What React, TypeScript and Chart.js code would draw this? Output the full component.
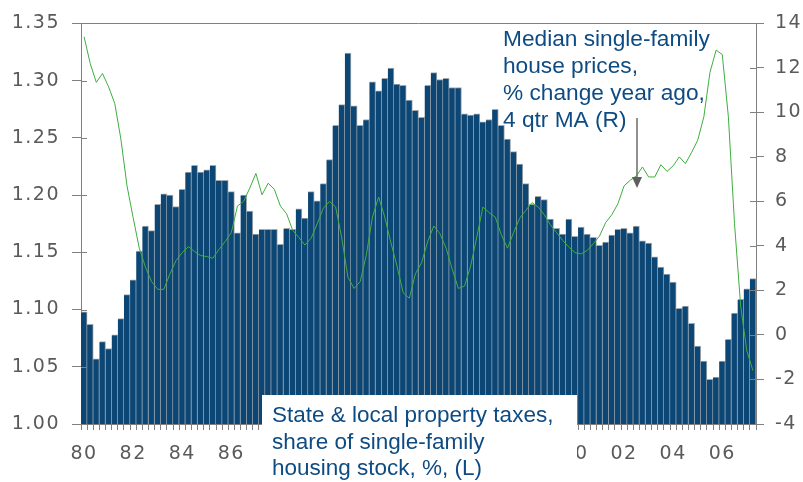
import React, { useEffect, useRef } from "react";
import { Chart, registerables } from "chart.js";

Chart.register(...registerables);

const QUARTERS = [
  "1980Q1","1980Q2","1980Q3","1980Q4","1981Q1","1981Q2","1981Q3","1981Q4",
  "1982Q1","1982Q2","1982Q3","1982Q4","1983Q1","1983Q2","1983Q3","1983Q4",
  "1984Q1","1984Q2","1984Q3","1984Q4","1985Q1","1985Q2","1985Q3","1985Q4",
  "1986Q1","1986Q2","1986Q3","1986Q4","1987Q1","1987Q2","1987Q3","1987Q4",
  "1988Q1","1988Q2","1988Q3","1988Q4","1989Q1","1989Q2","1989Q3","1989Q4",
  "1990Q1","1990Q2","1990Q3","1990Q4","1991Q1","1991Q2","1991Q3","1991Q4",
  "1992Q1","1992Q2","1992Q3","1992Q4","1993Q1","1993Q2","1993Q3","1993Q4",
  "1994Q1","1994Q2","1994Q3","1994Q4","1995Q1","1995Q2","1995Q3","1995Q4",
  "1996Q1","1996Q2","1996Q3","1996Q4","1997Q1","1997Q2","1997Q3","1997Q4",
  "1998Q1","1998Q2","1998Q3","1998Q4","1999Q1","1999Q2","1999Q3","1999Q4",
  "2000Q1","2000Q2","2000Q3","2000Q4","2001Q1","2001Q2","2001Q3","2001Q4",
  "2002Q1","2002Q2","2002Q3","2002Q4","2003Q1","2003Q2","2003Q3","2003Q4",
  "2004Q1","2004Q2","2004Q3","2004Q4","2005Q1","2005Q2","2005Q3","2005Q4",
  "2006Q1","2006Q2","2006Q3","2006Q4","2007Q1","2007Q2",
];

const TICK_LABELS = ["80","82","84","86","88","90","92","94","96","98","00","02","04","06"];

const PROPERTY_TAX_SHARE = [
  1.098,1.087,1.057,1.072,1.066,1.078,1.092,1.113,
  1.126,1.151,1.173,1.169,1.192,1.201,1.200,1.190,
  1.205,1.220,1.226,1.220,1.222,1.226,1.213,1.213,
  1.203,1.167,1.200,1.186,1.166,1.170,1.170,1.170,
  1.157,1.171,1.170,1.188,1.180,1.203,1.195,1.210,
  1.231,1.261,1.279,1.324,1.278,1.261,1.266,1.299,
  1.291,1.302,1.311,1.297,1.296,1.283,1.274,1.268,
  1.296,1.307,1.301,1.302,1.294,1.294,1.271,1.270,
  1.271,1.264,1.266,1.275,1.261,1.249,1.238,1.227,
  1.210,1.192,1.199,1.196,1.179,1.171,1.166,1.179,
  1.164,1.172,1.166,1.163,1.156,1.159,1.165,1.170,
  1.171,1.167,1.173,1.160,1.158,1.146,1.137,1.131,
  1.124,1.101,1.103,1.088,1.068,1.055,1.039,1.041,
  1.055,1.074,1.097,1.109,1.118,1.127,
];

const HOUSE_PRICE_CHANGE = [
  13.4,12.2,11.35,11.75,11.15,10.4,8.8,6.7,
  5.27,3.9,3.05,2.4,2.05,2.05,2.75,3.35,
  3.7,3.97,3.75,3.57,3.52,3.45,3.85,4.2,
  4.6,5.8,6.0,6.6,7.26,6.3,6.82,6.55,
  5.79,5.45,4.7,4.38,4.04,4.35,5.0,5.7,
  6.0,5.75,4.35,2.6,2.09,2.4,3.6,5.3,
  6.2,5.3,4.15,3.1,1.9,1.65,2.75,3.25,
  4.2,4.9,4.55,3.9,2.95,2.09,2.2,3.1,
  4.4,5.75,5.5,5.3,4.5,3.9,4.6,5.25,
  5.6,5.95,5.75,5.4,4.95,4.6,4.25,3.95,
  3.7,3.64,3.8,4.1,4.45,5.05,5.4,5.9,
  6.7,6.95,7.15,7.55,7.1,7.1,7.65,7.35,
  7.6,8.0,7.7,8.2,8.75,9.8,11.8,12.8,
  12.6,9.8,5.0,1.3,-0.7,-1.6,
];

const PRICE_NOTE = ["Median single-family", "house prices,", "% change year ago,", "4 qtr MA (R)"];
const TAX_NOTE = ["State & local property taxes,", "share of single-family", "housing stock, %, (L)"];

const AXIS_GRAY = "#808080";
const LABEL_GRAY = "#5a5a5a";
const NOTE_BLUE = "#0e4b82";

const overlayPlugin = {
  id: "overlay",
  beforeDraw(chart: any) {
    chart.ctx.letterSpacing = "1.5px";
  },
  afterDraw(chart: any) {
    const ctx = chart.ctx;
    const area = chart.chartArea;
    ctx.save();
    ctx.letterSpacing = "0px";
    // top frame line
    ctx.strokeStyle = AXIS_GRAY;
    ctx.lineWidth = 1;
    ctx.beginPath();
    ctx.moveTo(area.left, Math.round(area.top) + 0.5);
    ctx.lineTo(area.right, Math.round(area.top) + 0.5);
    ctx.stroke();
    // inner tick portions on y axes
    const yl = chart.scales.y;
    const yr = chart.scales.y1;
    ctx.beginPath();
    yl.ticks.forEach((_t: any, i: number) => {
      const p = Math.round(yl.getPixelForTick(i)) + 0.5;
      ctx.moveTo(area.left, p);
      ctx.lineTo(area.left + 6, p);
    });
    yr.ticks.forEach((_t: any, i: number) => {
      const p = Math.round(yr.getPixelForTick(i)) + 0.5;
      ctx.moveTo(area.right - 6, p);
      ctx.lineTo(area.right, p);
    });
    ctx.stroke();

    // white label box over bars
    ctx.fillStyle = "#ffffff";
    ctx.fillRect(262, 395, 315, 90);
    ctx.fillStyle = NOTE_BLUE;
    ctx.font = '22.5px "Liberation Sans", Arial, sans-serif';
    ctx.textAlign = "left";
    ctx.textBaseline = "alphabetic";
    TAX_NOTE.forEach((t, i) => ctx.fillText(t, 272, 422 + i * 26.7));
    ctx.font = '22.7px "Liberation Sans", Arial, sans-serif';
    PRICE_NOTE.forEach((t, i) => ctx.fillText(t, 503, 46 + i * 26.9));

    // arrow
    ctx.strokeStyle = "#6b6b6b";
    ctx.lineWidth = 1.5;
    ctx.beginPath();
    ctx.moveTo(637, 118);
    ctx.lineTo(637, 178);
    ctx.stroke();
    ctx.fillStyle = "#5f5f5f";
    ctx.beginPath();
    ctx.moveTo(632, 177);
    ctx.lineTo(642, 177);
    ctx.lineTo(637, 188);
    ctx.closePath();
    ctx.fill();
    ctx.restore();
  },
};

export default function App() {
  const ref = useRef<HTMLCanvasElement | null>(null);

  useEffect(() => {
    if (!ref.current) return;
    const tickFont = { family: '"DejaVu Sans", Verdana, sans-serif', size: 19 };
    const chart = new Chart(ref.current, {
      type: "bar",
      data: {
        labels: QUARTERS,
        datasets: [
          {
            type: "line",
            label: "Median single-family house prices, % change year ago, 4 qtr MA (R)",
            data: HOUSE_PRICE_CHANGE,
            yAxisID: "y1",
            borderColor: "#3fae3f",
            borderWidth: 1,
            pointRadius: 0,
            tension: 0,
            order: 0,
          } as any,
          {
            type: "bar",
            label: "State & local property taxes, share of single-family housing stock, %, (L)",
            data: PROPERTY_TAX_SHARE,
            yAxisID: "y",
            backgroundColor: "#0c4675",
            borderColor: "#a3a8ad",
            borderWidth: { top: 1, right: 1, left: 0, bottom: 0 },
            borderSkipped: false,
            barPercentage: 1,
            categoryPercentage: 1,
            order: 1,
          } as any,
        ],
      },
      options: {
        animation: false,
        responsive: false,
        layout: { padding: { top: 18, left: 0, right: 0, bottom: 0 } },
        plugins: { legend: { display: false }, tooltip: { enabled: false } },
        scales: {
          x: {
            offset: true,
            grid: {
              offset: true,
              drawOnChartArea: false,
              tickLength: 6,
              color: AXIS_GRAY,
            },
            border: { color: AXIS_GRAY, width: 1 },
            ticks: {
              autoSkip: false,
              maxRotation: 0,
              minRotation: 0,
              padding: 13,
              color: LABEL_GRAY,
              font: tickFont,
              callback: (_v: any, i: number) => {
                const q = QUARTERS[i];
                const yy = q.slice(2, 4);
                return q.endsWith("Q1") && TICK_LABELS.includes(yy) ? yy : "";
              },
            },
            afterFit: (s: any) => {
              s.height = 58;
            },
          },
          y: {
            position: "left",
            min: 1.0,
            max: 1.35,
            grid: { drawOnChartArea: false, tickLength: 9, color: AXIS_GRAY },
            border: { color: AXIS_GRAY, width: 1 },
            ticks: {
              stepSize: 0.05,
              padding: 12,
              color: LABEL_GRAY,
              font: tickFont,
              callback: (v: any) => Number(v).toFixed(2),
            },
            afterFit: (s: any) => {
              s.width = 81;
            },
          },
          y1: {
            position: "right",
            min: -4,
            max: 14,
            grid: { drawOnChartArea: false, tickLength: 8, color: AXIS_GRAY },
            border: { color: AXIS_GRAY, width: 1 },
            ticks: {
              stepSize: 2,
              padding: 11,
              color: LABEL_GRAY,
              font: tickFont,
            },
            afterFit: (s: any) => {
              s.width = 47;
            },
          },
        },
      },
      plugins: [overlayPlugin],
    });
    return () => chart.destroy();
  }, []);

  return (
    <div style={{ position: "fixed", left: 0, top: 0, width: 803, height: 482, background: "#fff" }}>
      <canvas ref={ref} width={803} height={482} style={{ width: 803, height: 482 }} />
    </div>
  );
}
